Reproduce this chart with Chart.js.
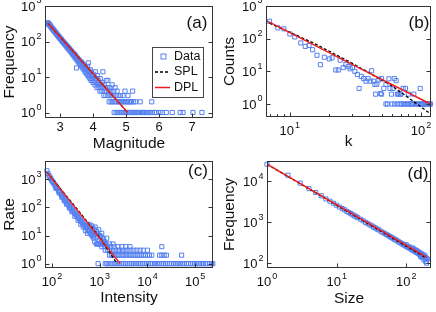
<!DOCTYPE html>
<html><head><meta charset="utf-8">
<script src="https://cdn.jsdelivr.net/npm/chart.js@4"></script>
<style>
html,body{margin:0;padding:0;background:#fff;}
body{width:436px;height:312px;position:relative;overflow:hidden;}
canvas{position:absolute;}
</style></head><body>
<canvas id="ca" width="218" height="156" style="left:0;top:0"></canvas>
<canvas id="cb" width="218" height="156" style="left:218px;top:0"></canvas>
<canvas id="cc" width="218" height="156" style="left:0;top:156px"></canvas>
<canvas id="cd" width="218" height="156" style="left:218px;top:156px"></canvas>
<script>
// ---------- Panel (a): Magnitude vs Frequency ----------
const aMag = [2.63,2.65,2.66,2.68,2.69,2.71,2.72,2.74,2.75,2.77,2.78,2.80,2.81,2.83,2.84,2.86,2.87,2.89,2.90,2.92,2.93,2.95,2.96,2.98,2.99,3.01,3.02,3.04,3.05,3.07,3.08,3.10,3.11,3.13,3.14,3.16,3.17,3.19,3.20,3.22,3.23,3.25,3.26,3.28,3.29,3.31,3.32,3.34,3.35,3.37,3.38,3.40,3.41,3.43,3.44,3.46,3.47,3.49,3.50,3.50,3.52,3.53,3.55,3.56,3.58,3.59,3.61,3.62,3.64,3.65,3.67,3.68,3.70,3.71,3.73,3.74,3.76,3.77,3.79,3.80,3.82,3.83,3.85,3.86,3.86,3.88,3.89,3.91,3.92,3.94,3.95,3.97,3.98,4.00,4.01,4.03,4.04,4.06,4.07,4.09,4.10,4.12,4.13,4.15,4.16,4.18,4.19,4.21,4.22,4.24,4.25,4.27,4.28,4.30,4.31,4.33,4.34,4.36,4.37,4.39,4.40,4.42,4.43,4.45,4.46,4.48,4.49,4.51,4.52,4.54,4.55,4.57,4.58,4.60,4.61,4.63,4.64,4.66,4.67,4.69,4.70,4.72,4.73,4.75,4.76,4.78,4.79,4.81,4.83,4.84,4.86,4.88,4.90,4.91,4.93,4.95,4.97,4.98,5.00,5.02,5.04,5.06,5.07,5.09,5.11,5.13,5.15,5.17,5.19,5.20,5.21,5.23,5.25,5.27,5.29,5.31,5.34,5.37,5.40,5.43,5.46,5.50,5.53,5.57,5.61,5.66,5.70,5.75,5.78,5.80,5.86,5.92,6.03,6.10,6.22,6.40,6.64,6.73,7.03,7.30];
const aFreq = [340,320,300,305,285,275,262,250,240,232,222,215,205,198,190,180,176,168,160,152,150,140,138,128,130,120,118,110,112,102,100,94,96,86,88,80,83,74,77,68,72,63,66,58,62,54,57,50,53,45,49,42,46,38,43,35,40,32,18,36,30,34,27,31,25,29,23,27,21,26,19,24,17,22,16,20,14,19,13,17,12,20,11,25,15,10,14,9,16,8,13,9,11,7,12,8,10,6,14,7,9,5,11,6,8,5,7,4,9,5,6,4,7,14,5,3,6,4,5,3,8,4,5,8,3,4,2,5,3,4,2,3,6,2,3,4,1,2,5,3,1,2,4,1,3,2,1,2,3,1,2,1,2,3,1,2,4,1,2,1,2,3,1,2,1,2,1,2,1,4,1,2,1,1,2,1,1,1,1,2,1,1,1,1,1,1,1,1,2,1,1,1,1,1,1,1,1,1,1,1];
const aFitX = [2.63, 5.05];
const aSplY = [330, 1];
const aDplY = [330, 1];
const aXTicks = [3, 4, 5, 6, 7];
const aYTicks = [1, 10, 100, 1000];

// ---------- Panel (b): k vs Counts ----------
const bK = [7.0,8.1,9.0,10.0,10.9,12.1,13.1,14.0,14.9,16.1,17.1,18.3,20.0,21.0,22.4,23.4,24.2,25.5,26.7,27.8,28.8,30.0,31.3,32.7,33.7,35.0,36.5,38.0,39.5,41.0,42.0,43.5,44.5,46.0,47.7,48.9,50.0,52.0,54.0,55.5,56.9,58.0,59.5,61.0,62.5,64.5,66.0,67.5,69.0,71.0,73.0,75.0,76.0,78.0,80.0,82.0,84.0,86.0,88.0,90.0,92.0,94.0,96.0,98.5,100,102,104,106,108,110,112,114,116,118,54,60,63,69,73,79,85,45,50,66,70];
const bCounts = [340,214,200,140,113,74,58,62,46,31,16,27,24,26,11,11,22,13,16,14,12,13,10,8,3,7,6,5,6,5,10.4,5,4,4,5.5,2.1,6,3,4,1,5.9,3,2,3,6,5.2,1,2,2,1,3,1,3,1,2,1,1,1,2,1,1,1,1,3,1,1,1,1,1,1,1,1,1,1,1,1,1,1,1,1,1,2,2,2,2];
const bDplX = [6.8, 30, 118];
const bDplY = [340, 16, 1.0];
const bSplX = [7, 15, 30, 60, 118];
const bSplY = [300, 75, 17.5, 3.6, 0.5];
const bXTicks = [10, 100];
const bXMinor = [7, 8, 9, 20, 30, 40, 50, 60, 70, 80, 90];
const bYTicks = [1, 10, 100, 1000];

// ---------- Panel (c): Intensity vs Rate ----------
const cInt = [78,82,86,90,94,98,102,106,110,115,120,125,130,136,142,148,155,162,170,178,186,195,205,215,225,236,248,260,273,287,300,315,330,345,360,378,396,415,435,455,475,500,525,550,575,600,630,660,690,720,750,
 120,140,160,180,200,230,260,300,350,400,450,500,550,
 600,640,680,720,760,800,850,900,950,1000,1050,1100,1150,1200,1250,1300,1400,700,800,900,1000,1100,1200,780,850,950,
 920,1300,1400,1500,1650,1800,2000,2200,2400,2600,2900,3200,3500,3800,4200,4600,5000,5500,6000,6600,7200,8000,8800,9600,10500,11500,12600,14000,15000,16500,18000,20000,22000,24000,26000,29000,32000,35000,38000,42000,46000,50000,55000,60000,66000,72000,80000,88000,96000,105000,115000,126000,140000,150000,165000,180000,200000,220000,235000,
 1600,1750,1900,2100,2300,2500,2800,3100,3400,3700,4100,4500,5000,5500,6100,6700,7400,8200,9000,10000,11000,12300,18000,20000,22500,25000,52000,
 1300,1450,1600,1800,2000,2300,2600,3000,3400,3900,4500,5200,6000,7000,8200,10000,
 1100,1250,1450,1700,2000,2400,2900,3500,4300,20000,
 900,1000,1150,1350,1600,1900];
const cRate = [2000,1600,1350,1200,1050,920,830,760,690,610,560,500,460,400,360,330,290,260,230,205,185,165,145,130,118,105,95,85,76,68,62,56,50,46,42,38,34,31,28,25,23,21,19,17,15,14,12,11,10,9,8,
 480,330,230,170,130,95,70,48,35,25,20,15,12,
 25,20,22,18,16,20,14,12,16,10,9,12,8,7,6,5,8,13,11,9,7,6,5,6,5,5,
 1,1,1,1,1,1,1,1,1,1,1,1,1,1,1,1,1,1,1,1,1,1,1,1,1,1,1,1,1,1,1,1,1,1,1,1,1,1,1,1,1,1,1,1,1,1,1,1,1,1,1,1,1,1,1,1,1,1,1,
 2,2,2,2,2,2,2,2,2,2,2,2,2,2,2,2,2,2,2,2,2,2,2,2,2,2,2,
 3,3,3,3,3,3,3,3,3,3,3,3,3,3,3,3,
 4,4,4,4,4,4,4,4,4,4,
 5,5,5,5,5,5];
const cDplX = [78, 2680];
const cDplY = [1750, 1];
const cSplX = [78, 300, 1000, 2300];
const cSplY = [1750, 110, 8.5, 1];
const cXTicks = [100, 1000, 10000, 100000];
const cYTicks = [1, 10, 100, 1000];

// ---------- Panel (d): Size vs Frequency ----------
const dSize = [1,2,3,4,5,6,7,8,9,10,11,12,13,14,15,16,17,18,19,20,22,24,26,28,30,32,34,36,38,40,43,46,49,52,55,58,61,64,67,70,74,78,82,86,90,94,98,102,106,110,115,120,125,130,135,140,145,150,155,160,165,170,175,180,185,190,195,200,
 100,110,120,130,140,150,160,170,180,190,195,185,175,165,155,145,135,125];
const dFreq = [26000,14000,9000,6600,5300,4400,3700,3250,2900,2600,2350,2150,2000,1840,1720,1620,1520,1430,1360,1290,1180,1080,990,920,860,810,760,720,680,650,600,560,530,500,470,445,425,405,385,370,350,330,315,300,285,275,262,252,243,235,225,215,205,198,190,183,177,170,165,160,155,150,146,142,138,134,130,126,
 280,250,235,210,200,185,145,135,120,110,100,150,160,170,180,195,210,230];
const dFitX = [1, 195];
const dDplY = [26000, 140];
const dSplY = [26000, 132];
const dXTicks = [1, 10, 100];
const dYTicks = [100, 1000, 10000];

// ---------- helpers ----------
const FONT = '"Liberation Sans", Arial, Helvetica, sans-serif';
const BLUE = 'rgb(85,128,240)';
const RED = 'rgb(235,30,30)';
function pts(xs, ys) { return xs.map((x, i) => ({ x: x, y: ys[i] })); }
function expOf(v) { return String(Math.round(Math.log10(v))); }

function decor(spec) {
  return {
    id: 'decor',
    afterDraw(chart) {
      const ctx = chart.ctx;
      const a = chart.chartArea;
      const xs = chart.scales.x, ys = chart.scales.y;
      const L = Math.round(a.left) + 0.5, T = Math.round(a.top) + 0.5;
      const R = Math.round(a.right) - 0.5, B = Math.round(a.bottom) - 0.5;
      ctx.save();
      ctx.strokeStyle = '#333';
      ctx.lineWidth = 1;
      ctx.strokeRect(L, T, R - L, B - T);
      ctx.beginPath();
      spec.xTicks.forEach(v => { const p = Math.round(xs.getPixelForValue(v)) + 0.5; ctx.moveTo(p, B); ctx.lineTo(p, B - 4); });
      (spec.xMinor || []).forEach(v => { const p = Math.round(xs.getPixelForValue(v)) + 0.5; ctx.moveTo(p, B); ctx.lineTo(p, B - 2.5); });
      spec.yTicks.forEach(v => { const p = Math.round(ys.getPixelForValue(v)) + 0.5; ctx.moveTo(L, p); ctx.lineTo(L + 4, p); ctx.moveTo(R, p); ctx.lineTo(R - 4, p); });
      ctx.stroke();
      ctx.fillStyle = '#111';
      const mainF = '13px ' + FONT, supF = '9px ' + FONT;
      ctx.textBaseline = 'middle';
      // x tick labels
      spec.xTicks.forEach(v => {
        const p = xs.getPixelForValue(v);
        if (spec.xLog) {
          ctx.font = mainF; const w1 = ctx.measureText('10').width;
          ctx.font = supF; const e = expOf(v); const w2 = ctx.measureText(e).width;
          const s = p - (w1 + w2 + 1) / 2;
          ctx.font = mainF; ctx.textAlign = 'left'; ctx.fillText('10', s, B + 15);
          ctx.font = supF; ctx.fillText(e, s + w1 + 1, B + 9);
        } else {
          ctx.font = mainF; ctx.textAlign = 'center'; ctx.fillText(String(v), p, B + 10);
        }
      });
      // y tick labels
      spec.yTicks.forEach(v => {
        const p = ys.getPixelForValue(v);
        ctx.font = supF; const e = expOf(v); const w2 = ctx.measureText(e).width;
        ctx.font = mainF; const w1 = ctx.measureText('10').width;
        const s = L - 4 - w2 - 1 - w1;
        ctx.textAlign = 'left';
        ctx.fillText('10', s, p + 1);
        ctx.font = supF; ctx.fillText(e, s + w1 + 1, p - 5);
      });
      // axis titles
      ctx.font = '15.5px ' + FONT;
      ctx.textAlign = 'center';
      ctx.fillText(spec.xTitle, (a.left + a.right) / 2, B + spec.xTitleOff);
      ctx.save();
      ctx.translate(spec.yTitleX, (a.top + a.bottom) / 2);
      ctx.rotate(-Math.PI / 2);
      ctx.fillText(spec.yTitle, 0, 0);
      ctx.restore();
      // panel label
      ctx.font = '17px ' + FONT;
      ctx.fillText(spec.tag, spec.tagX, spec.tagY);
      // legend
      if (spec.legend) {
        const g = spec.legend;
        ctx.fillStyle = '#fff';
        ctx.fillRect(g.x, g.y, g.w, g.h);
        ctx.strokeStyle = '#444';
        ctx.strokeRect(g.x + 0.5, g.y + 0.5, g.w, g.h);
        const rows = [g.y + 9.5, g.y + 25, g.y + 40.5];
        ctx.lineWidth = 1;
        ctx.strokeStyle = BLUE;
        ctx.strokeRect(g.x + 9, rows[0] - 2.5, 5, 5);
        ctx.strokeStyle = '#000'; ctx.lineWidth = 1.3; ctx.setLineDash([3, 2]);
        ctx.beginPath(); ctx.moveTo(g.x + 3, rows[1]); ctx.lineTo(g.x + 18, rows[1]); ctx.stroke();
        ctx.setLineDash([]); ctx.strokeStyle = RED; ctx.lineWidth = 1.5;
        ctx.beginPath(); ctx.moveTo(g.x + 3, rows[2]); ctx.lineTo(g.x + 18, rows[2]); ctx.stroke();
        ctx.fillStyle = '#111'; ctx.font = '12.5px ' + FONT; ctx.textAlign = 'left';
        ctx.fillText('Data', g.x + 22, rows[0]);
        ctx.fillText('SPL', g.x + 22, rows[1]);
        ctx.fillText('DPL', g.x + 22, rows[2]);
      }
      ctx.restore();
    }
  };
}

function make(id, d, scales, pad, spec) {
  return new Chart(document.getElementById(id), {
    type: 'scatter',
    data: { datasets: [
      { label: 'DPL', data: d.dpl, showLine: true, borderColor: RED, borderWidth: 1.5, pointRadius: 0, order: 1 },
      { label: 'SPL', data: d.spl, showLine: true, borderColor: '#000', borderWidth: 1.3, borderDash: [3, 2], pointRadius: 0, order: 2 },
      { label: 'Data', data: d.data, pointStyle: 'rect', pointRadius: 2.9, borderWidth: 1, borderColor: BLUE, backgroundColor: 'rgba(255,255,255,0)', order: 3, clip: 4 }
    ] },
    options: {
      responsive: false, animation: false, devicePixelRatio: 1, events: [],
      layout: { padding: pad },
      plugins: { legend: { display: false }, tooltip: { enabled: false } },
      scales: {
        x: Object.assign({ display: false }, scales.x),
        y: Object.assign({ display: false }, scales.y)
      }
    },
    plugins: [decor(spec)]
  });
}

make('ca',
  { data: pts(aMag, aFreq), spl: pts(aFitX, aSplY), dpl: pts(aFitX, aDplY) },
  { x: { type: 'linear', min: 2.545, max: 7.636 }, y: { type: 'logarithmic', min: 0.724, max: 1000 } },
  { left: 45, top: 6, right: 5, bottom: 38 },
  { xTicks: aXTicks, yTicks: aYTicks, xLog: false, xTitle: 'Magnitude', yTitle: 'Frequency', xTitleOff: 26, yTitleX: 10,
    tag: '(a)', tagX: 197, tagY: 23, legend: { x: 152, y: 47, w: 51, h: 50 } });

make('cb',
  { data: pts(bK, bCounts), spl: pts(bSplX, bSplY), dpl: pts(bDplX, bDplY) },
  { x: { type: 'logarithmic', min: 6.58, max: 119 }, y: { type: 'logarithmic', min: 0.4, max: 1000 } },
  { left: 48, top: 6, right: 4, bottom: 39 },
  { xTicks: bXTicks, xMinor: bXMinor, yTicks: bYTicks, xLog: true, xTitle: 'k', yTitle: 'Counts', xTitleOff: 25, yTitleX: 12,
    tag: '(b)', tagX: 201, tagY: 23 });

make('cc',
  { data: pts(cInt, cRate), spl: pts(cSplX, cSplY), dpl: pts(cDplX, cDplY) },
  { x: { type: 'logarithmic', min: 71, max: 237000 }, y: { type: 'logarithmic', min: 0.73, max: 4450 } },
  { left: 45, top: 1, right: 5, bottom: 44 },
  { xTicks: cXTicks, yTicks: cYTicks, xLog: true, xTitle: 'Intensity', yTitle: 'Rate', xTitleOff: 30, yTitleX: 10,
    tag: '(c)', tagX: 198, tagY: 15 });

make('cd',
  { data: pts(dSize, dFreq), spl: pts(dFitX, dSplY), dpl: pts(dFitX, dDplY) },
  { x: { type: 'logarithmic', min: 1, max: 226 }, y: { type: 'logarithmic', min: 76, max: 31200 } },
  { left: 49, top: 1, right: 3, bottom: 44 },
  { xTicks: dXTicks, yTicks: dYTicks, xLog: true, xTitle: 'Size', yTitle: 'Frequency', xTitleOff: 31, yTitleX: 12,
    tag: '(d)', tagX: 200, tagY: 18 });
</script>
</body></html>
